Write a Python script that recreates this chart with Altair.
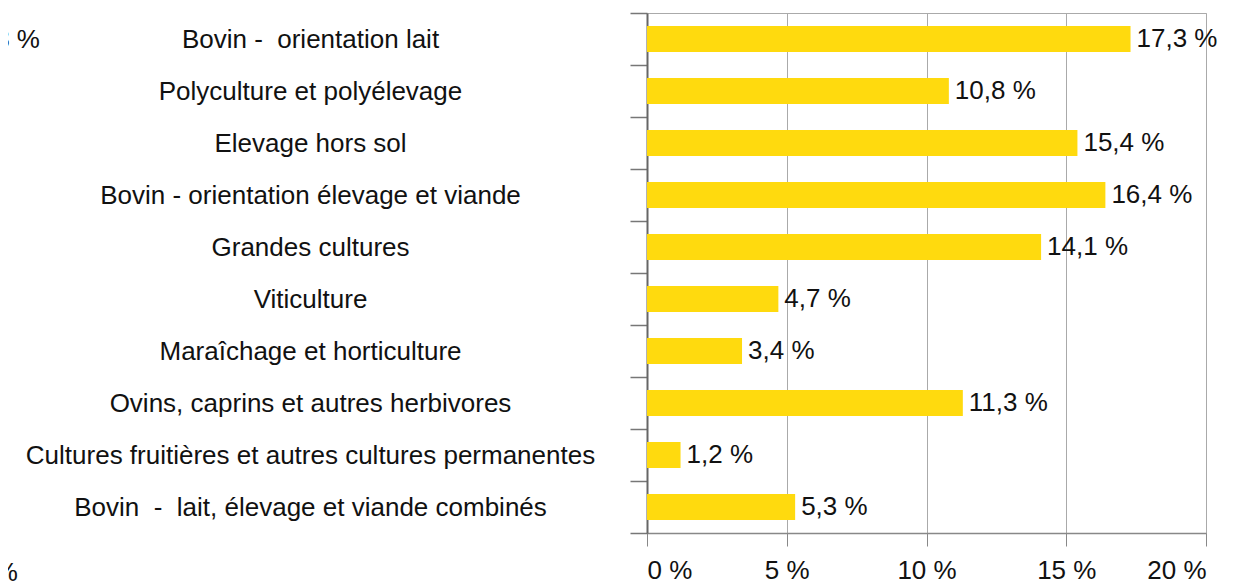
import altair as alt
import pandas as pd

NB = "\u00a0"
categories = [
    "Bovin -" + NB + NB + "orientation lait",
    "Polyculture et polyélevage",
    "Elevage hors sol",
    "Bovin - orientation élevage et viande",
    "Grandes cultures",
    "Viticulture",
    "Maraîchage et horticulture",
    "Ovins, caprins et autres herbivores",
    "Cultures fruitières et autres cultures permanentes",
    "Bovin" + NB + NB + "-" + NB + NB + "lait, élevage et viande combinés",
]
values = [17.3, 10.8, 15.4, 16.4, 14.1, 4.7, 3.4, 11.3, 1.2, 5.3]
x_ticks = [0, 5, 10, 15, 20]
# fragments of a neighbouring chart, cut by the crop at the left edge
fragments = ["8 %", "0 %"]

FONT = "Liberation Sans"
FS = 26
YELLOW = "#FFDA0E"
INK = "#111111"

df = pd.DataFrame({
    "cat": categories,
    "val": values,
    "lbl": [f"{v:.1f}".replace(".", ",") + " %" for v in values],
})

y_enc = alt.Y(
    "cat:N",
    sort=categories,
    scale=alt.Scale(paddingInner=0, paddingOuter=0),
    axis=alt.Axis(
        title=None,
        tickBand="extent",
        tickSize=17,
        tickColor="#777",
        tickWidth=1.5,
        domainColor="#666",
        domainWidth=2,
        labelAlign="center",
        labelBaseline="middle",
        labelPadding=320,
        labelLimit=800,
        labelFont=FONT,
        labelFontSize=FS,
        labelColor=INK,
        grid=False,
    ),
)

x_enc = alt.X(
    "val:Q",
    scale=alt.Scale(domain=[0, 20], nice=False),
    axis=alt.Axis(
        title=None,
        values=x_ticks,
        labelExpr="datum.value + ' %'",
        tickSize=13,
        tickColor="#888",
        domainColor="#888",
        domainWidth=1.5,
        labelPadding=11,
        labelFont=FONT,
        labelFontSize=FS,
        labelColor=INK,
        grid=True,
        gridColor="#aaa",
        gridWidth=1,
    ),
)

bars = alt.Chart(df).mark_bar(color=YELLOW, size=26).encode(x=x_enc, y=y_enc)

texts = alt.Chart(df).mark_text(
    align="left", baseline="middle", dx=6, font=FONT, fontSize=FS, color=INK
).encode(x="val:Q", y=alt.Y("cat:N", sort=categories), text="lbl:N")

frag_df = pd.DataFrame({"t": fragments, "fx": [-607, -629], "fy": [27, 560]})
frags = alt.Chart(frag_df).mark_text(
    align="right", baseline="middle", font=FONT, fontSize=FS, color=INK
).encode(
    x=alt.X("fx:Q", scale=None),
    y=alt.Y("fy:Q", scale=None),
    text="t:N",
)

chart = (
    alt.layer(bars, texts, frags)
    .properties(
        width=559,
        height=520,
        autosize=alt.AutoSizeParams(type="none"),
        padding={"left": 639, "top": 5, "right": 31, "bottom": 52},
        background="white",
    )
    .configure_view(stroke="#aaa", strokeWidth=1)
)

chart.save("out.html", embed_options={"renderer": "svg", "actions": False})
